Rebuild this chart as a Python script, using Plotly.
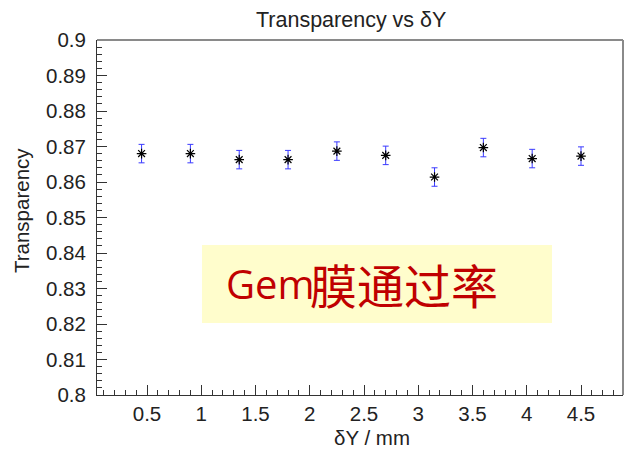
import plotly.graph_objects as go

# Data
dy_mm = [0.45, 0.9, 1.35, 1.8, 2.25, 2.7, 3.15, 3.6, 4.05, 4.5]
transparency = [0.8680, 0.8680, 0.8663, 0.8663, 0.8687, 0.8675, 0.8614, 0.8697, 0.8666, 0.8673]
transparency_err = [0.0026, 0.0026, 0.0026, 0.0026, 0.0026, 0.0026, 0.0026, 0.0026, 0.0026, 0.0026]

x_tickvals = [0.5, 1, 1.5, 2, 2.5, 3, 3.5, 4, 4.5]
x_ticktext = ["0.5", "1", "1.5", "2", "2.5", "3", "3.5", "4", "4.5"]
y_tickvals = [0.8, 0.81, 0.82, 0.83, 0.84, 0.85, 0.86, 0.87, 0.88, 0.89, 0.9]
y_ticktext = ["0.8", "0.81", "0.82", "0.83", "0.84", "0.85", "0.86", "0.87", "0.88", "0.89", "0.9"]

FONT = "Liberation Sans, Arial, sans-serif"

fig = go.Figure()
fig.add_trace(go.Scatter(
    x=dy_mm, y=transparency, mode="markers",
    marker=dict(symbol="asterisk-open", size=8, color="black",
                line=dict(color="#111", width=1.2)),
    error_y=dict(type="data", array=transparency_err, visible=True,
                 color="#3a3aff", thickness=1, width=3),
    showlegend=False,
))

fig.update_layout(
    width=624, height=449,
    margin=dict(l=97, r=1, t=40, b=54),
    paper_bgcolor="white", plot_bgcolor="white",
    font=dict(family=FONT, size=20, color="#222"),
    xaxis=dict(range=[0.0392, 4.887], tickvals=x_tickvals, ticktext=x_ticktext,
               ticks="inside", ticklen=10, tickcolor="#333", tickwidth=1,
               minor=dict(ticks="inside", ticklen=5, dtick=0.1, tickcolor="#333"),
               showline=True, linecolor="#333", linewidth=1,
               showgrid=False, zeroline=False, ticklabelstandoff=0,
               tickfont=dict(size=20.5)),
    yaxis=dict(range=[0.8, 0.9], tickvals=y_tickvals, ticktext=y_ticktext,
               ticks="inside", ticklen=10, tickcolor="#333", tickwidth=1,
               minor=dict(ticks="inside", ticklen=5, dtick=0.002, tickcolor="#333"),
               showline=True, linecolor="#333", linewidth=1,
               showgrid=False, zeroline=False, ticklabelstandoff=6,
               tickfont=dict(size=20.5)),
    shapes=[
        dict(type="line", xref="paper", yref="paper", x0=0, x1=1, y0=1, y1=1,
             line=dict(color="#8a8a8a", width=2)),
        dict(type="line", xref="paper", yref="paper", x0=1, x1=1, y0=0, y1=1,
             line=dict(color="#8a8a8a", width=2)),
        dict(type="rect", xref="paper", yref="paper", x0=0.1996, x1=0.865,
             y0=0.2028, y1=0.4225, fillcolor="#FFFDCC", line=dict(width=0),
             layer="below"),
    ],
    annotations=[
        dict(text="Transparency vs δY", xref="paper", yref="paper", x=0.483, y=1.056,
             showarrow=False, font=dict(size=21.5, family=FONT, color="#222"),
             xanchor="center", yanchor="middle"),
        dict(text="Transparency", xref="paper", yref="paper", x=-0.1445, y=0.521,
             showarrow=False, textangle=-90, font=dict(size=20.5, family=FONT, color="#222"),
             xanchor="center", yanchor="middle"),
        dict(text="δY / mm", xref="paper", yref="paper", x=0.523, y=-0.121,
             showarrow=False, font=dict(size=20.5, family=FONT, color="#222"),
             xanchor="center", yanchor="middle"),
        dict(text="Gem", xref="paper", yref="paper", x=0.2413, y=0.3127,
             showarrow=False, font=dict(size=40, family="Open Sans, Noto Sans, sans-serif", color="#C00000"),
             xanchor="left", yanchor="middle"),
        dict(text="膜通过率", xref="paper", yref="paper", x=0.401, y=0.3127,
             showarrow=False, font=dict(size=47, family="Noto Sans CJK SC", color="#C00000"),
             xanchor="left", yanchor="middle"),
    ],
)

fig.write_html("out.html")
